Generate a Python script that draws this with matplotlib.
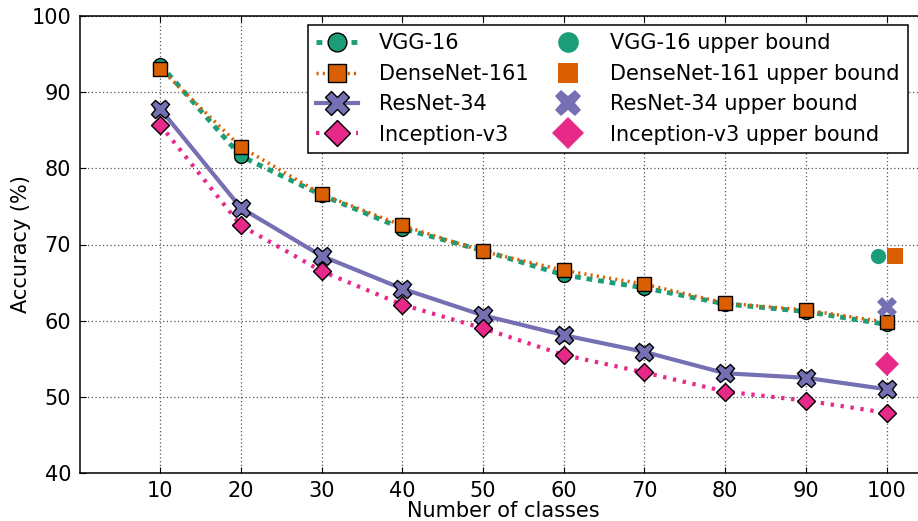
import matplotlib
matplotlib.use("Agg")
import matplotlib.pyplot as plt

classes = [10, 20, 30, 40, 50, 60, 70, 80, 90, 100]
vgg16 = [93.6, 81.6, 76.5, 72.1, 69.2, 66.0, 64.3, 62.2, 61.2, 59.5]
densenet161 = [93.1, 82.8, 76.6, 72.5, 69.1, 66.6, 64.8, 62.3, 61.4, 59.8]
resnet34 = [87.8, 74.8, 68.5, 64.2, 60.7, 58.1, 55.9, 53.1, 52.5, 51.0]
inception_v3 = [85.7, 72.5, 66.5, 62.1, 59.0, 55.5, 53.2, 50.7, 49.5, 47.9]

ub_x = [99, 101, 100, 100]
ub_y = [68.5, 68.5, 61.8, 54.3]

names = ["VGG-16", "DenseNet-161", "ResNet-34", "Inception-v3"]
colors = ["#1b9e77", "#d95f02", "#7570b3", "#e7298a"]

plt.rcParams['font.family'] = ['DejaVu Sans']
FS = 15
fig = plt.figure(figsize=(9.18, 5.21), dpi=100)
ax = fig.add_axes([79.5/918, 48/521, 105*8.07/918, 457/521])

series = [vgg16, densenet161, resnet34, inception_v3]
styles = [dict(ls=(0, (1.2, 1.2)), lw=3.5, marker='o', ms=10),
          dict(ls=(0, (0.6, 1.2)), lw=2.5, marker='s', ms=10),
          dict(ls='-', lw=3, marker='X', ms=13),
          dict(ls=(0, (0.8, 1.6)), lw=3, marker='D', ms=9.5)]
line_handles = []
for y, c, st, n in zip(series, colors, styles, names):
    h, = ax.plot(classes, y, color=c, markerfacecolor=c, markeredgecolor='black',
                 markeredgewidth=1, label=n, zorder=3, **st)
    line_handles.append(h)

ub_markers = ['o', 's', 'X', 'D']
ub_sizes = [11, 11, 14, 12]
ub_handles = []
for x, y, c, m, s, n in zip(ub_x, ub_y, colors, ub_markers, ub_sizes, names):
    h, = ax.plot([x], [y], ls='none', marker=m, color=c, ms=s, markeredgewidth=0,
                 label=n + " upper bound", zorder=3)
    ub_handles.append(h)

ax.set_xlim(0, 105)
ax.set_ylim(40, 100)
ax.set_xticks(classes)
ax.set_yticks(range(40, 101, 10))
ax.tick_params(direction='in', labelsize=FS, top=True, right=True, length=4, pad=6)
ax.grid(True, color='#555555', linestyle=(0, (1, 2)), linewidth=0.9)
ax.set_axisbelow(True)
ax.set_xlabel("Number of classes", fontsize=FS, labelpad=0)
ax.set_ylabel("Accuracy (%)", fontsize=FS, labelpad=0)
for s in ax.spines.values():
    s.set_linewidth(1.1)

leg = ax.legend(line_handles + ub_handles, [h.get_label() for h in line_handles + ub_handles],
                ncol=2, loc='upper left', bbox_to_anchor=(228.5/847.4, 0.98),
                borderaxespad=0, fontsize=FS, frameon=True, fancybox=False,
                edgecolor='black', framealpha=1, handlelength=2.0, columnspacing=0.9,
                labelspacing=0.5, borderpad=0.4, handletextpad=1.0, numpoints=1,
                markerscale=1.35)
leg.get_frame().set_linewidth(1.1)

fig.savefig("out.png", dpi=100)
